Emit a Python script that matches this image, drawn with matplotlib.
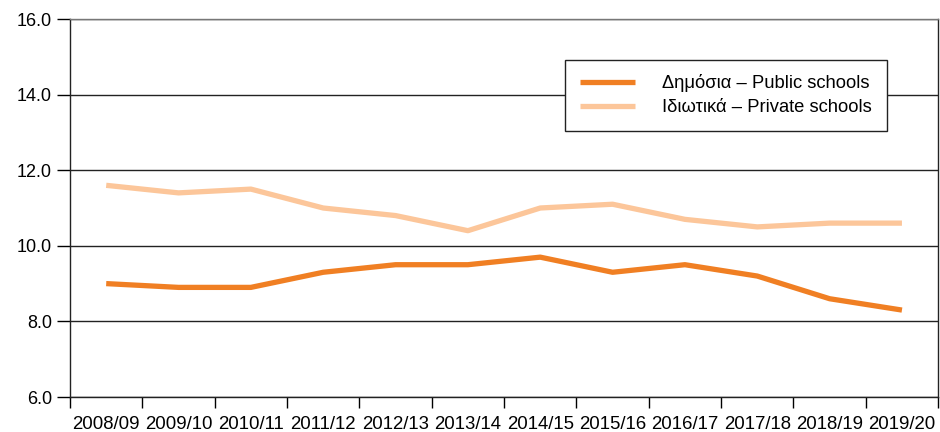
import matplotlib
matplotlib.use("Agg")
import matplotlib.pyplot as plt
import numpy as np

years = ["2008/09", "2009/10", "2010/11", "2011/12", "2012/13", "2013/14",
         "2014/15", "2015/16", "2016/17", "2017/18", "2018/19", "2019/20"]
public = [9.0, 8.9, 8.9, 9.3, 9.5, 9.5, 9.7, 9.3, 9.5, 9.2, 8.6, 8.3]
private = [11.6, 11.4, 11.5, 11.0, 10.8, 10.4, 11.0, 11.1, 10.7, 10.5, 10.6, 10.6]
yticks = [6, 8, 10, 12, 14, 16]

plt.rcParams['font.family'] = ['Liberation Sans', 'DejaVu Sans']

fig = plt.figure(figsize=(9.4, 4.32), dpi=100)
ax = fig.add_axes([0.0745, 0.081, 0.9235, 0.875])

x = np.arange(len(years))
ax.plot(x, public, color='#F07F23', lw=3.8, solid_capstyle='butt',
        label='Δημόσια – Public schools')
ax.plot(x, private, color='#FCC69A', lw=3.8, solid_capstyle='butt',
        label='Ιδιωτικά – Private schools')

ax.set_ylim(6, 16)
ax.set_yticks(yticks)
ax.set_yticklabels([f"{v:.1f}" for v in yticks])
ax.set_xlim(-0.5, len(years) - 0.5)
ax.set_xticks(x)
ax.set_xticklabels(years)
ax.set_xticks(np.arange(-0.5, len(years), 1), minor=True)
ax.tick_params(axis='x', which='major', length=0, pad=14, labelsize=13.4)
ax.tick_params(axis='x', which='minor', length=8, width=1)
ax.tick_params(axis='y', length=9.5, width=1, labelsize=13, pad=3.5)
ax.yaxis.grid(True, color='#222222', lw=1)
ax.set_axisbelow(True)
for s in ax.spines.values():
    s.set_color('#222222')
    s.set_linewidth(1)
ax.spines['top'].set_color('#777777')

leg = ax.legend(loc='upper right', bbox_to_anchor=(0.941, 0.892), borderaxespad=0,
                fontsize=13.2, frameon=True, fancybox=False, edgecolor='#222222',
                framealpha=1, handlelength=3.0, borderpad=0.8, labelspacing=0.38,
                handletextpad=1.5)
leg.get_frame().set_linewidth(1)

fig.savefig("out.png", dpi=100)
